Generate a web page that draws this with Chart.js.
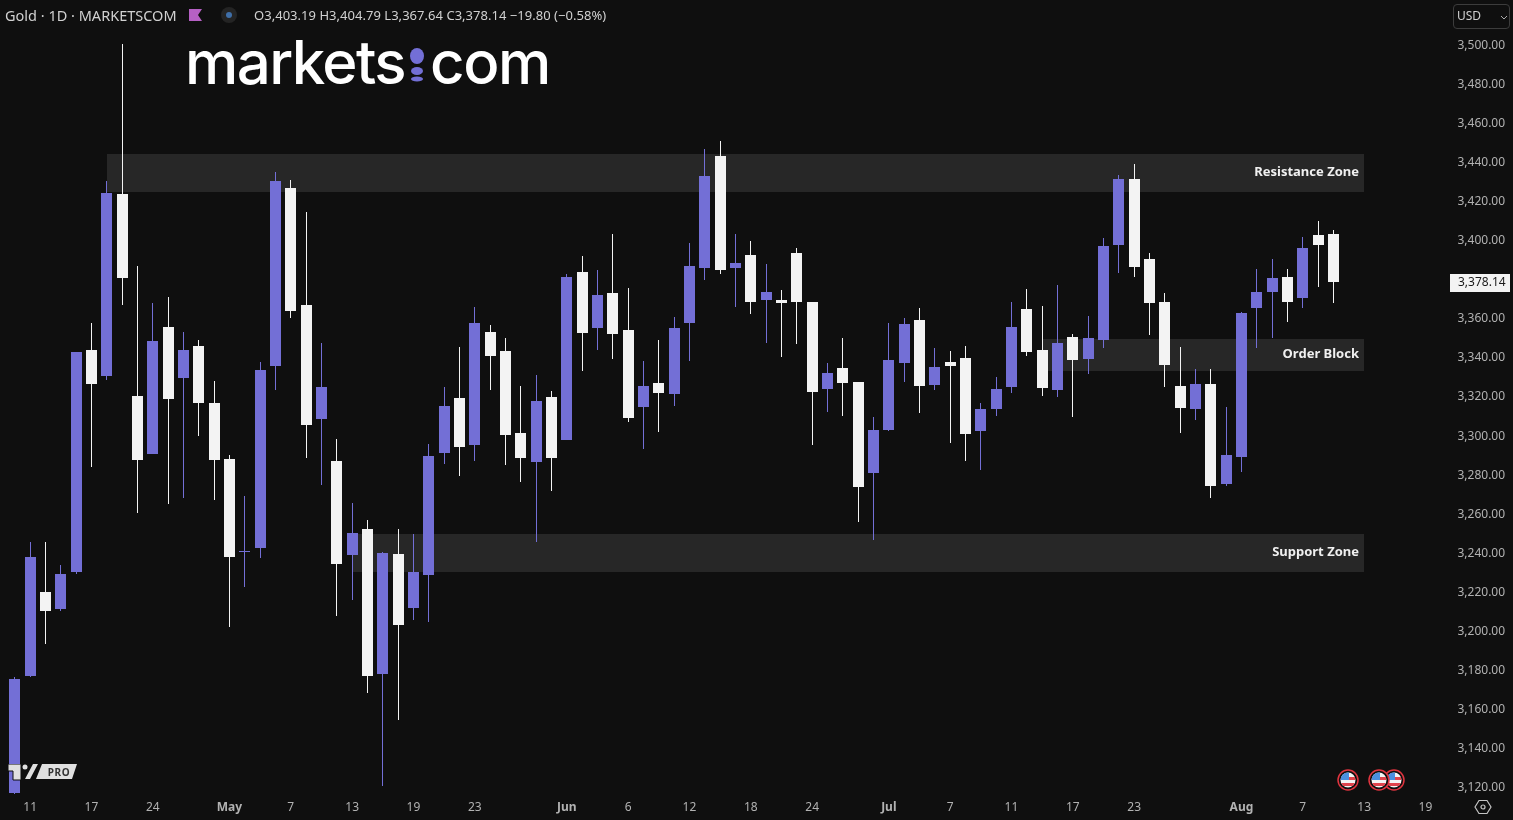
<!DOCTYPE html>
<html>
<head>
<meta charset="utf-8">
<title>Gold 1D</title>
<script src="https://cdn.jsdelivr.net/npm/chart.js@4"></script>
<style>
    html, body { margin: 0; padding: 0; background: #0f0f0f; overflow: hidden; }
    body { position: relative; width: 1513px; height: 820px; font-family: "Noto Sans", sans-serif; }
    canvas { position: absolute; left: 0; top: 0; }
    .abs { position: absolute; white-space: nowrap; }
    #title { left: 5px; top: 6px; font-size: 14.5px; line-height: 19px; color: #d1d1d1; }
    #ohlc { left: 254px; top: 7px; font-size: 13px; line-height: 17px; color: #d1d1d1; letter-spacing: 0.03px; }
    #logo1, #logo2 { top: 26px; font-family: Inter, sans-serif; font-weight: 500; font-size: 60px; line-height: 72px; color: #fff; }
    #logo1 { left: 185px; letter-spacing: -1.6px; }
    #logo2 { left: 430px; letter-spacing: -1.4px; }
    #currency { left: 1453px; top: 4px; width: 55px; height: 23px; border: 1px solid #3c3c3c; border-radius: 4px; }
    #currency span { position: absolute; left: 3px; top: 2px; font-size: 12px; line-height: 18px; color: #d1d1d1; }
    #pro { left: 46px; top: 765px; width: 26px; text-align: center; font-size: 10px; line-height: 14px; font-weight: 700; color: #333; letter-spacing: 0.6px; }
</style>
</head>
<body>
<canvas id="chart" width="1513" height="820"></canvas>

<div class="abs" id="title">Gold · 1D · MARKETSCOM</div>
<svg class="abs" style="left:186px;top:6px" width="56" height="20">
    <polygon points="3,3 16,3 12,9 16,15 3,15" fill="#b660c4"/>
    <circle cx="43" cy="9" r="8" fill="#242424"/>
    <circle cx="43" cy="9" r="3" fill="#3f6fa8"/>
</svg>
<div class="abs" id="ohlc">O3,403.19 H3,404.79 L3,367.64 C3,378.14 −19.80 (−0.58%)</div>

<div class="abs" id="logo1">markets</div>
<svg class="abs" style="left:405px;top:40px" width="26" height="46">
    <ellipse cx="12" cy="16" rx="7" ry="8" fill="#736fd6"/>
    <ellipse cx="12" cy="31" rx="6" ry="4" fill="#736fd6"/>
    <ellipse cx="12" cy="39" rx="6" ry="2.5" fill="#736fd6"/>
</svg>
<div class="abs" id="logo2">com</div>

<div class="abs" id="currency">
    <span>USD</span>
    <svg style="position:absolute;left:46px;top:10px" width="8" height="5"><polyline points="1,1 4,4 7,1" fill="none" stroke="#aaa" stroke-width="1"/></svg>
</div>

<!-- TV badge, bottom left -->
<svg class="abs" style="left:8px;top:764px" width="70" height="17">
    <polygon points="0,0 13,0 13,16 5,16 5,7 0,7" fill="#e0e0e0" stroke="#0f0f0f" stroke-width="1"/>
    <circle cx="17" cy="3" r="2.5" fill="#e0e0e0"/>
    <polygon points="25,0 30,0 22,15 17,15" fill="#e0e0e0"/>
    <polygon points="34,0 69,0 64,15 28,15" fill="#e0e0e0"/>
</svg>
<div class="abs" id="pro">PRO</div>

<!-- event flags -->
<svg class="abs" style="left:1335px;top:767px" width="75" height="26">
    <defs>
        <g id="flag">
            <circle r="10" fill="#0f0f0f" stroke="#e0343f" stroke-width="1.5"/>
            <clipPath id="disc"><circle r="7.5"/></clipPath>
            <g clip-path="url(#disc)">
                <rect x="-8" y="-8" width="16" height="16" fill="#f4f4f4"/>
                <rect x="-8" y="-3" width="16" height="3" fill="#e0434c"/>
                <rect x="-8" y="3" width="16" height="3" fill="#e0434c"/>
                <rect x="-8" y="-8" width="9" height="8" fill="#4a8fe0"/>
            </g>
        </g>
    </defs>
    <use href="#flag" x="13" y="13"/>
    <use href="#flag" x="59" y="13"/>
    <use href="#flag" x="44" y="13"/>
</svg>

<!-- settings hexagon -->
<svg class="abs" style="left:1474px;top:799px" width="18" height="17">
    <polygon points="1,8 5,1.5 13,1.5 17,8 13,14.5 5,14.5" fill="none" stroke="#c4c4c4" stroke-width="1.2"/>
    <circle cx="9" cy="8" r="2" fill="none" stroke="#c4c4c4" stroke-width="1.2"/>
</svg>

<script>
    // Daily gold candles
    const openValues = [
        3116.8, 3176.7, 3219.7, 3211.0, 3229.9, 3343.6, 3330.2, 3423.4, 3320.0, 3290.3,
        3355.3, 3329.2, 3345.6, 3316.4, 3287.8, 3240.2, 3242.2, 3335.4, 3426.5, 3366.6,
        3308.2, 3286.7, 3238.6, 3251.9, 3177.7, 3239.1, 3211.5, 3228.4, 3290.8, 3319.0,
        3294.9, 3352.8, 3343.0, 3301.1, 3286.2, 3319.5, 3297.5, 3383.5, 3354.8, 3372.7,
        3353.8, 3314.4, 3326.7, 3321.0, 3357.4, 3385.5, 3442.9, 3385.5, 3392.2, 3369.2,
        3369.2, 3393.2, 3368.1, 3323.6, 3334.3, 3327.2, 3280.6, 3302.6, 3336.9, 3358.9,
        3325.6, 3337.4, 3339.5, 3302.1, 3313.4, 3324.6, 3364.5, 3343.6, 3323.1, 3350.2,
        3338.9, 3348.7, 3397.3, 3431.1, 3390.1, 3368.1, 3325.1, 3313.4, 3326.2, 3275.0,
        3288.8, 3365.1, 3373.2, 3380.9, 3370.2, 3402.4, 3403.19
    ];
    const highValues = [
        3176.2, 3245.3, 3245.3, 3233.5, 3342.5, 3357.4, 3430.1, 3500.2, 3386.5, 3367.6,
        3370.7, 3352.8, 3348.7, 3327.7, 3289.8, 3268.8, 3337.4, 3434.7, 3430.6, 3414.2,
        3347.1, 3298.0, 3265.2, 3256.5, 3240.2, 3251.9, 3249.4, 3295.4, 3324.6, 3345.1,
        3365.6, 3356.3, 3349.7, 3325.1, 3330.8, 3322.6, 3382.5, 3391.7, 3384.5, 3402.9,
        3375.3, 3337.9, 3348.7, 3360.4, 3398.3, 3446.4, 3450.5, 3402.9, 3399.3, 3387.6,
        3374.3, 3395.8, 3368.1, 3336.9, 3349.7, 3327.2, 3309.3, 3357.4, 3359.9, 3365.1,
        3344.6, 3343.0, 3345.6, 3316.4, 3329.7, 3368.1, 3374.8, 3366.1, 3376.8, 3351.7,
        3361.0, 3400.9, 3433.1, 3438.8, 3393.2, 3372.7, 3345.1, 3333.8, 3333.8, 3314.4,
        3363.0, 3385.0, 3390.1, 3385.0, 3401.4, 3409.6, 3404.79
    ];
    const lowValues = [
        3116.5, 3176.2, 3193.1, 3210.0, 3228.9, 3283.7, 3328.2, 3366.6, 3260.1, 3290.3,
        3264.7, 3267.8, 3299.5, 3266.8, 3201.8, 3222.2, 3237.1, 3323.1, 3359.9, 3288.3,
        3274.5, 3207.4, 3215.6, 3168.0, 3120.4, 3154.2, 3205.4, 3204.3, 3285.2, 3279.1,
        3286.7, 3323.1, 3284.7, 3276.0, 3245.3, 3271.4, 3297.5, 3332.8, 3343.6, 3338.9,
        3306.7, 3292.9, 3301.6, 3314.9, 3337.9, 3379.4, 3382.5, 3365.6, 3362.0, 3347.1,
        3340.0, 3346.6, 3294.9, 3311.8, 3309.8, 3255.5, 3246.3, 3302.1, 3327.2, 3311.3,
        3323.1, 3296.0, 3286.7, 3282.1, 3309.8, 3321.5, 3340.5, 3320.0, 3319.5, 3309.3,
        3331.3, 3344.6, 3383.0, 3380.9, 3351.2, 3324.6, 3301.1, 3307.7, 3267.8, 3273.9,
        3281.1, 3344.6, 3349.7, 3357.9, 3365.1, 3375.8, 3367.64
    ];
    const closeValues = [
        3175.2, 3237.6, 3210.0, 3228.9, 3342.5, 3326.2, 3423.9, 3380.4, 3287.2, 3348.2,
        3318.5, 3343.6, 3316.4, 3287.2, 3237.6, 3240.7, 3333.3, 3430.1, 3363.5, 3305.2,
        3324.6, 3234.0, 3249.9, 3176.7, 3239.6, 3202.8, 3229.9, 3289.3, 3314.9, 3293.9,
        3357.4, 3340.5, 3300.0, 3288.3, 3317.4, 3288.3, 3380.9, 3352.3, 3371.7, 3351.7,
        3308.7, 3325.1, 3321.5, 3354.8, 3386.5, 3432.6, 3384.5, 3388.1, 3368.1, 3373.2,
        3367.6, 3368.1, 3322.1, 3331.8, 3326.7, 3273.4, 3302.6, 3338.4, 3356.9, 3325.1,
        3334.9, 3335.4, 3300.6, 3313.4, 3323.6, 3355.3, 3342.5, 3324.1, 3347.1, 3338.4,
        3349.7, 3396.8, 3431.1, 3386.0, 3367.6, 3335.9, 3313.9, 3326.2, 3273.9, 3289.8,
        3362.5, 3373.2, 3380.4, 3368.1, 3395.8, 3397.3, 3378.14
    ];

    // Axis labels
    const xTickSlots = [1, 5, 9, 14, 18, 22, 26, 30, 36, 40, 44, 48, 52, 57, 61, 65, 69, 73, 80, 84, 88, 92];
    const xTickLabels = ['11', '17', '24', 'May', '7', '13', '19', '23', 'Jun', '6', '12', '18', '24', 'Jul', '7', '11', '17', '23', 'Aug', '7', '13', '19'];
    const monthLabels = ['May', 'Jun', 'Jul', 'Aug'];
    const yTickValues = [3120, 3140, 3160, 3180, 3200, 3220, 3240, 3260, 3280, 3300, 3320, 3340, 3360, 3380, 3400, 3420, 3440, 3460, 3480, 3500];

    // Shaded zones: name, first slot, last slot, bottom price, top price
    const zoneNames = ['Resistance Zone', 'Order Block', 'Support Zone'];
    const zoneStart = [6, 67, 22];
    const zoneEnd = [88, 88, 88];
    const zoneLow = [3424.4, 3332.8, 3229.9];
    const zoneHigh = [3443.9, 3349.2, 3249.4];

    const slotCount = 94;
    const categories = Array.from({ length: slotCount }, (_, i) => i);

    const UP_COLOR = '#736fd6';
    const DOWN_COLOR = '#f3f3f3';
    const candleColors = closeValues.map((c, i) => c >= openValues[i] ? UP_COLOR : DOWN_COLOR);

    const fontFamily = '"Noto Sans", sans-serif';

    // Keep bodies and wicks on whole pixels so they stay sharp
    const snapBars = {
        id: 'snapBars',
        afterDatasetsUpdate(chart) {
            chart.getSortedVisibleDatasetMetas().forEach(meta => {
                meta.data.forEach(bar => {
                    bar.x = Math.floor(bar.x) + 0.5;
                    bar.y = Math.round(bar.y);
                    bar.base = Math.round(bar.base);
                    if (bar.y === bar.base) bar.base += 1;
                });
            });
        },
        // price labels sit 1px lower than the font's middle
        beforeDraw(chart) {
            chart.scales.y.getLabelItems().forEach(item => { item.textOffset += 1; });
        }
    };

    // Zone rectangles and their labels, placed through the scales
    const zones = {
        id: 'zones',
        beforeDatasetsDraw(chart) {
            const { ctx, scales: { x, y } } = chart;
            ctx.save();
            zoneNames.forEach((name, i) => {
                const left = Math.round(x.getPixelForValue(zoneStart[i]));
                const right = Math.round(x.getPixelForValue(zoneEnd[i]));
                const top = Math.round(y.getPixelForValue(zoneHigh[i]));
                const bottom = Math.round(y.getPixelForValue(zoneLow[i]));
                ctx.fillStyle = '#272727';
                ctx.fillRect(left, top, right - left, bottom - top);
                ctx.fillStyle = '#f0f0f0';
                ctx.font = '700 13px ' + fontFamily;
                ctx.textAlign = 'right';
                ctx.textBaseline = 'middle';
                ctx.fillText(name, right - 5, (top + bottom) / 2 - 1);
            });
            ctx.restore();
        }
    };

    // Last price tag on the price axis
    const lastPrice = {
        id: 'lastPrice',
        afterDraw(chart) {
            const { ctx, scales: { y } } = chart;
            const close = closeValues[closeValues.length - 1];
            const py = Math.round(y.getPixelForValue(close)) + 1;
            ctx.save();
            ctx.fillStyle = '#f3f3f3';
            ctx.fillRect(1450, py - 9, 60, 18);
            ctx.fillStyle = '#1a1a1a';
            ctx.font = '12px ' + fontFamily;
            ctx.textAlign = 'left';
            ctx.textBaseline = 'middle';
            ctx.fillText(close.toLocaleString('en-US', { minimumFractionDigits: 2 }), 1458, py);
            ctx.restore();
        }
    };

    new Chart(document.getElementById('chart'), {
        type: 'bar',
        data: {
            labels: categories,
            datasets: [
                {
                    label: 'Body',
                    data: openValues.map((o, i) => [o, closeValues[i]]),
                    backgroundColor: candleColors,
                    barThickness: 11,
                    inflateAmount: 0
                },
                {
                    label: 'Wick',
                    data: lowValues.map((l, i) => [l, highValues[i]]),
                    backgroundColor: candleColors,
                    barThickness: 1,
                    inflateAmount: 0
                }
            ]
        },
        options: {
            responsive: false,
            animation: false,
            grouped: false,
            layout: { padding: { left: 7.13, top: 30, right: 0, bottom: 0 } },
            plugins: { legend: { display: false }, tooltip: { enabled: false } },
            scales: {
                x: {
                    grid: { display: false, drawTicks: false },
                    border: { display: false },
                    afterFit(scale) { scale.height = 25; },
                    ticks: {
                        autoSkip: false,
                        maxRotation: 0,
                        padding: 5,
                        color: '#b2b2b2',
                        font: ctx => ({
                            family: fontFamily,
                            size: 12,
                            weight: monthLabels.includes(xTickLabels[xTickSlots.indexOf(ctx.index)]) ? '700' : '400'
                        }),
                        callback: (value, index) => {
                            const at = xTickSlots.indexOf(index);
                            return at >= 0 ? xTickLabels[at] : '';
                        }
                    }
                },
                y: {
                    position: 'right',
                    min: 3115.81,
                    max: 3507.37,
                    grid: { display: false, drawTicks: false },
                    border: { display: false },
                    afterBuildTicks(scale) { scale.ticks = yTickValues.map(v => ({ value: v })); },
                    afterFit(scale) { scale.width = 64.53; },
                    ticks: {
                        padding: 9,
                        color: '#b2b2b2',
                        font: { family: fontFamily, size: 12 },
                        callback: value => value.toLocaleString('en-US', { minimumFractionDigits: 2 })
                    }
                }
            }
        },
        plugins: [snapBars, zones, lastPrice]
    });
</script>
</body>
</html>
